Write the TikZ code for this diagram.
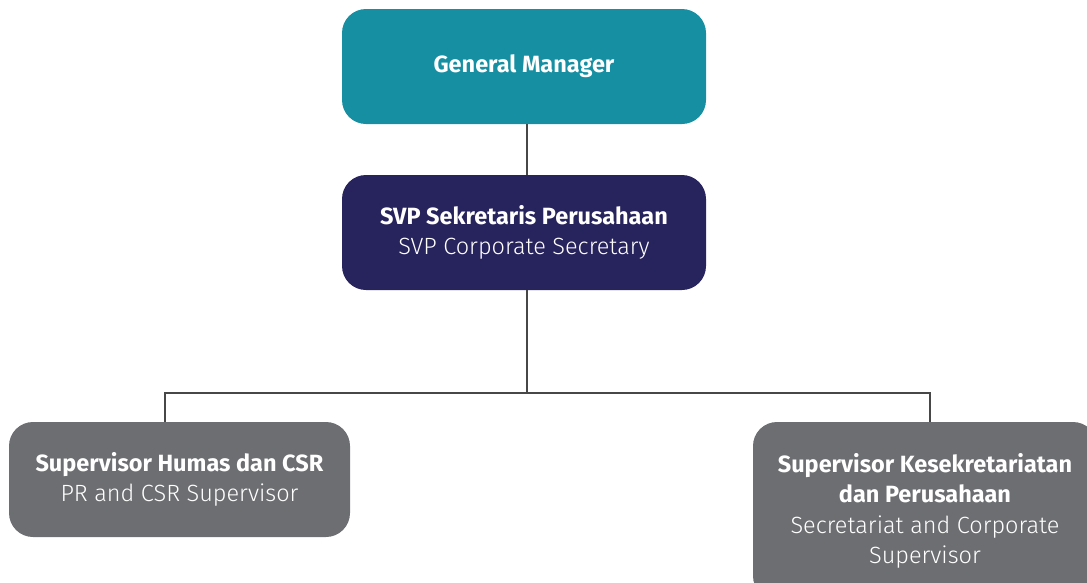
\documentclass[tikz,border=0pt]{standalone}
\usepackage{fontspec}
\setmainfont{Fira Sans}
\newfontfamily\lightfont{Fira Sans Light}
\begin{document}
\begin{tikzpicture}[x=1pt,y=-1pt,
  box/.style={rounded corners=24pt, text=white, align=center, inner sep=0pt,
    font=\fontsize{23.5}{30.5}\selectfont},
  conn/.style={draw=linegray, line width=2.8pt}]
\definecolor{teal1}{HTML}{168FA3}
\definecolor{navy1}{HTML}{27235C}
\definecolor{gray1}{HTML}{6D6E71}
\definecolor{linegray}{HTML}{474747}
\useasboundingbox (0,0) rectangle (1087,582);
\clip (0,0) rectangle (1087,582);
\node[box, fill=teal1, minimum width=364pt, minimum height=115pt] (gm) at (524,66.5) {\textbf{General Manager}};
\node[box, fill=navy1, minimum width=364pt, minimum height=115pt] (svp) at (524,232.5) {\textbf{SVP Sekretaris Perusahaan}\\{\lightfont SVP Corporate Secretary}};
\node[box, fill=gray1, minimum width=341pt, minimum height=115pt] (hr) at (179.5,479.5) {\textbf{Supervisor Humas dan CSR}\\{\lightfont PR and CSR Supervisor}};
\node[box, fill=gray1, minimum width=344pt, minimum height=178pt] (sk) at (925,511) {\textbf{Supervisor Kesekretariatan}\\\textbf{dan Perusahaan}\\{\lightfont Secretariat and Corporate}\\{\lightfont Supervisor}};
\coordinate (bus) at (527,393);
\coordinate (lb) at (165,393);
\coordinate (rb) at (930,393);
\begin{scope}[on background layer/.try]
\draw[conn] (gm.south -| bus) -- (svp.north -| bus);
\draw[conn] (svp.south -| bus) -- (bus);
\draw[conn] (lb |- hr.north) -- (lb) -- (rb) -- (rb |- sk.north);
\end{scope}
\end{tikzpicture}
\end{document}
